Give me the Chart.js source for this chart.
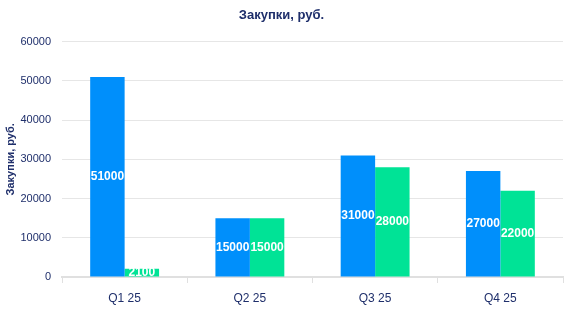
<!DOCTYPE html>
<html>
<head>
<meta charset="utf-8">
<script src="https://cdn.jsdelivr.net/npm/chart.js@4"></script>
<style>
  html, body { margin: 0; padding: 0; background: #fff; }
</style>
</head>
<body>
<canvas id="purchases" width="570" height="315"></canvas>
<script>
document.addEventListener("DOMContentLoaded", function () {
    const quarters = ["Q1 25", "Q2 25", "Q3 25", "Q4 25"];
    const seriesA = [51000, 15000, 31000, 27000];
    const seriesB = [2100, 15000, 28000, 22000];
    const yTicks = [0, 10000, 20000, 30000, 40000, 50000, 60000];

    const textColor = "#1f2f6b";
    const fontFamily = "'Liberation Sans', Arial, sans-serif";

    // white value labels in the middle of each bar
    const barLabels = {
        id: "barLabels",
        afterDatasetsDraw(chart) {
            const ctx = chart.ctx;
            ctx.save();
            ctx.fillStyle = "#fff";
            ctx.font = "bold 12px " + fontFamily;
            ctx.textAlign = "center";
            ctx.textBaseline = "middle";
            chart.data.datasets.forEach(function (ds, i) {
                chart.getDatasetMeta(i).data.forEach(function (bar, j) {
                    ctx.fillText(String(ds.data[j]), bar.x, (bar.y + bar.base) / 2);
                });
            });
            ctx.restore();
        }
    };

    new Chart(document.getElementById("purchases").getContext("2d"), {
        type: "bar",
        data: {
            labels: quarters,
            datasets: [{
                label: "A",
                data: seriesA,
                backgroundColor: "#008FFB",
                borderWidth: 0
            }, {
                label: "B",
                data: seriesB,
                backgroundColor: "#00E396",
                borderWidth: 0
            }]
        },
        options: {
            responsive: false,
            animation: false,
            devicePixelRatio: 1,
            categoryPercentage: 0.55,
            barPercentage: 1,
            layout: { padding: { left: 0, right: 7, top: 0, bottom: 0 } },
            plugins: {
                legend: { display: false },
                tooltip: { enabled: false },
                title: {
                    display: true,
                    text: "Закупки, руб.",
                    color: textColor,
                    font: { family: fontFamily, size: 13, weight: "bold" },
                    padding: { top: 8, bottom: 18 }
                }
            },
            scales: {
                x: {
                    grid: {
                        display: true,
                        offset: true,
                        drawOnChartArea: false,
                        tickLength: 6,
                        color: "#e0e0e0"
                    },
                    border: { color: "#e0e0e0", width: 2 },
                    ticks: {
                        color: textColor,
                        font: { family: fontFamily, size: 12 },
                        padding: 8
                    },
                    afterFit: function (s) { s.height = 38; }
                },
                y: {
                    min: yTicks[0],
                    max: yTicks[yTicks.length - 1],
                    grid: { color: "#e6e6e6", drawTicks: false },
                    border: { display: false },
                    ticks: {
                        stepSize: yTicks[1] - yTicks[0],
                        autoSkip: false,
                        callback: function (v) { return String(v); },
                        color: textColor,
                        font: { family: fontFamily, size: 11 },
                        padding: 11
                    },
                    title: {
                        display: true,
                        text: "Закупки, руб.",
                        color: textColor,
                        font: { family: fontFamily, size: 11, weight: "bold" },
                        padding: { top: 4, bottom: 0 }
                    },
                    afterFit: function (s) { s.width = 62; }
                }
            }
        },
        plugins: [barLabels]
    });
});
</script>
</body>
</html>
